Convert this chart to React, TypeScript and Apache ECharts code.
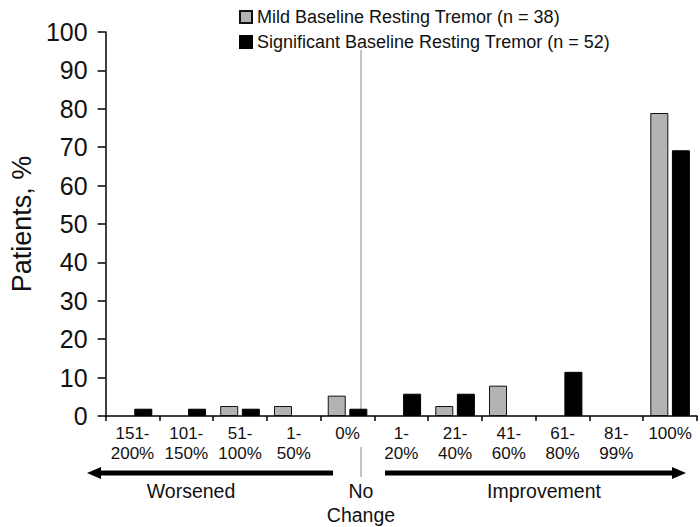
import React, { useEffect, useRef } from "react";
import * as echarts from "echarts";

const categories = ["151-\n200%", "101-\n150%", "51-\n100%", "1-\n50%", "0%", "1-\n20%", "21-\n40%", "41-\n60%", "61-\n80%", "81-\n99%", "100%"];
const mildName = "Mild Baseline Resting Tremor (n = 38)";
const sigName = "Significant Baseline Resting Tremor (n = 52)";
const mildValues = [0, 0, 2.6, 2.6, 5.3, 0, 2.6, 7.9, 0, 0, 78.9];
const sigValues = [1.9, 1.9, 1.9, 0, 1.9, 5.8, 5.8, 0, 11.5, 0, 69.2];
const yTicks = { min: 0, max: 100, interval: 10 };

const FONT = "Liberation Sans, Arial, sans-serif";

export default function App() {
  const ref = useRef<HTMLDivElement>(null);
  useEffect(() => {
    if (!ref.current) return;
    const chart = echarts.init(ref.current, undefined, { renderer: "svg" });
    const ay = 473;
    const asText = (v: number) => (v === 0 ? "-" : v);
    chart.setOption({
      animation: false,
      textStyle: { fontFamily: FONT },
      legend: {
        orient: "vertical",
        left: 234,
        top: 3,
        itemWidth: 12,
        itemHeight: 12,
        itemGap: 7,
        icon: "rect",
        textStyle: { fontSize: 18, color: "#111", fontFamily: FONT },
        data: [mildName, sigName],
      },
      grid: { left: 95, right: 3, top: 32, bottom: 111, containLabel: false },
      xAxis: {
        type: "category",
        data: categories,
        axisLine: { lineStyle: { color: "#000", width: 1.5 } },
        axisTick: { show: true, length: 5, lineStyle: { color: "#000", width: 1.5 } },
        axisLabel: { interval: 0, fontSize: 17, lineHeight: 20, color: "#111", margin: 7, fontFamily: FONT },
      },
      yAxis: {
        type: "value",
        min: yTicks.min,
        max: yTicks.max,
        interval: yTicks.interval,
        name: "Patients, %",
        nameLocation: "middle",
        nameGap: 66,
        nameTextStyle: { fontSize: 27, color: "#111", fontFamily: FONT },
        splitLine: { show: false },
        axisLine: { show: true, lineStyle: { color: "#000", width: 1.5 } },
        axisTick: { show: true, length: 8, lineStyle: { color: "#000", width: 1.5 } },
        axisLabel: { fontSize: 25, color: "#111", margin: 18, fontFamily: FONT },
      },
      series: [
        {
          name: mildName,
          type: "bar",
          data: mildValues.map(asText),
          barWidth: 18,
          barGap: "20%",
          itemStyle: { color: "#b3b3b3", borderColor: "#111", borderWidth: 1 },
        },
        {
          name: sigName,
          type: "bar",
          data: sigValues.map(asText),
          barWidth: 18,
          itemStyle: { color: "#000", borderColor: "#000", borderWidth: 1 },
        },
      ],
      graphic: [
        { type: "line", shape: { x1: 361, y1: 50, x2: 361, y2: 416 }, style: { stroke: "#888", lineWidth: 1 } },
        { type: "line", shape: { x1: 361, y1: 447, x2: 361, y2: 477 }, style: { stroke: "#888", lineWidth: 1 } },
        { type: "line", shape: { x1: 98, y1: ay, x2: 333, y2: ay }, style: { stroke: "#000", lineWidth: 5 } },
        { type: "polygon", shape: { points: [[87, ay], [101, ay - 6], [101, ay + 6]] }, style: { fill: "#000" } },
        { type: "line", shape: { x1: 385, y1: ay, x2: 674, y2: ay }, style: { stroke: "#000", lineWidth: 5 } },
        { type: "polygon", shape: { points: [[686, ay], [672, ay - 6], [672, ay + 6]] }, style: { fill: "#000" } },
        { type: "text", x: 191, y: 491, style: { text: "Worsened", font: `19.5px ${FONT}`, fill: "#111", textAlign: "center", textVerticalAlign: "middle" } },
        { type: "text", x: 544, y: 491, style: { text: "Improvement", font: `19.5px ${FONT}`, fill: "#111", textAlign: "center", textVerticalAlign: "middle" } },
        { type: "text", x: 361, y: 491, style: { text: "No", font: `19.5px ${FONT}`, fill: "#111", textAlign: "center", textVerticalAlign: "middle" } },
        { type: "text", x: 361, y: 515, style: { text: "Change", font: `19.5px ${FONT}`, fill: "#111", textAlign: "center", textVerticalAlign: "middle" } },
      ],
    });
    return () => chart.dispose();
  }, []);
  return <div ref={ref} style={{ width: 700, height: 527, position: "absolute", left: 0, top: 0 }} />;
}
